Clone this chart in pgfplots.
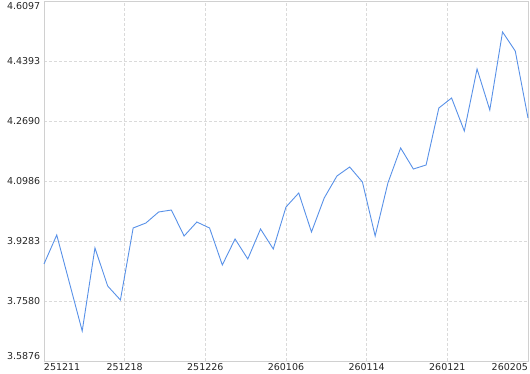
\documentclass[border=0pt]{standalone}
\usepackage{fontspec}
\setmainfont{DejaVu Sans}
\usepackage{pgfplots}
\pgfplotsset{compat=1.18}
\definecolor{linec}{RGB}{88,145,232}
\definecolor{gridc}{RGB}{218,218,218}
\definecolor{axisc}{RGB}{208,208,208}
\begin{document}
\begin{tikzpicture}
\useasboundingbox (-44pt,-13pt) rectangle (486pt,361pt);
\begin{axis}[
  scale only axis, width=484pt, height=360pt,
  at={(0pt,0pt)}, anchor=south west,
  xmin=0, xmax=38, ymin=3.5876, ymax=4.6097,
  axis line style={draw=axisc, line width=0.8pt},
  tick style={draw=none},
  major tick length=0pt,
  grid=major,
  major grid style={draw=gridc, line width=0.7pt, dash pattern=on 3pt off 2pt},
  xtick={0,6.3333,12.6667,19,25.3333,31.6667,38},
  xticklabels={\rlap{251211},251218,251226,260106,260114,260121,\llap{260205}},
  ytick={3.5876,3.7580,3.9283,4.0986,4.2690,4.4393,4.6097},
  yticklabels={\raisebox{1.5pt}[0pt][0pt]{3.5876},3.7580,3.9283,4.0986,4.2690,4.4393,\raisebox{-8.5pt}[0pt][0pt]{4.6097}},
  tick label style={font=\fontsize{9.5}{11}\selectfont, text=black!85},
  xticklabel style={anchor=north, inner sep=2.5pt},
  yticklabel style={anchor=east, inner sep=3.5pt},
  clip=false,
]
\addplot[color=linec, line width=0.9pt, mark=none] coordinates {
(0,3.8630) (1,3.9453) (2,3.8091) (3,3.6728) (4,3.9084) (5,3.8005) (6,3.7608)
(7,3.9652) (8,3.9794) (9,4.0106) (10,4.0163) (11,3.9425) (12,3.9822) (13,3.9652)
(14,3.8602) (15,3.9340) (16,3.8772) (17,3.9624) (18,3.9056) (19,4.0248) (20,4.0646)
(21,3.9539) (22,4.0504) (23,4.1129) (24,4.1384) (25,4.0958) (26,3.9425) (27,4.0930)
(28,4.1924) (29,4.1327) (30,4.1441) (31,4.3059) (32,4.3343) (33,4.2406) (34,4.4166)
(35,4.3002) (36,4.5217) (37,4.4678) (38,4.2775)
};
\end{axis}
\end{tikzpicture}
\end{document}
